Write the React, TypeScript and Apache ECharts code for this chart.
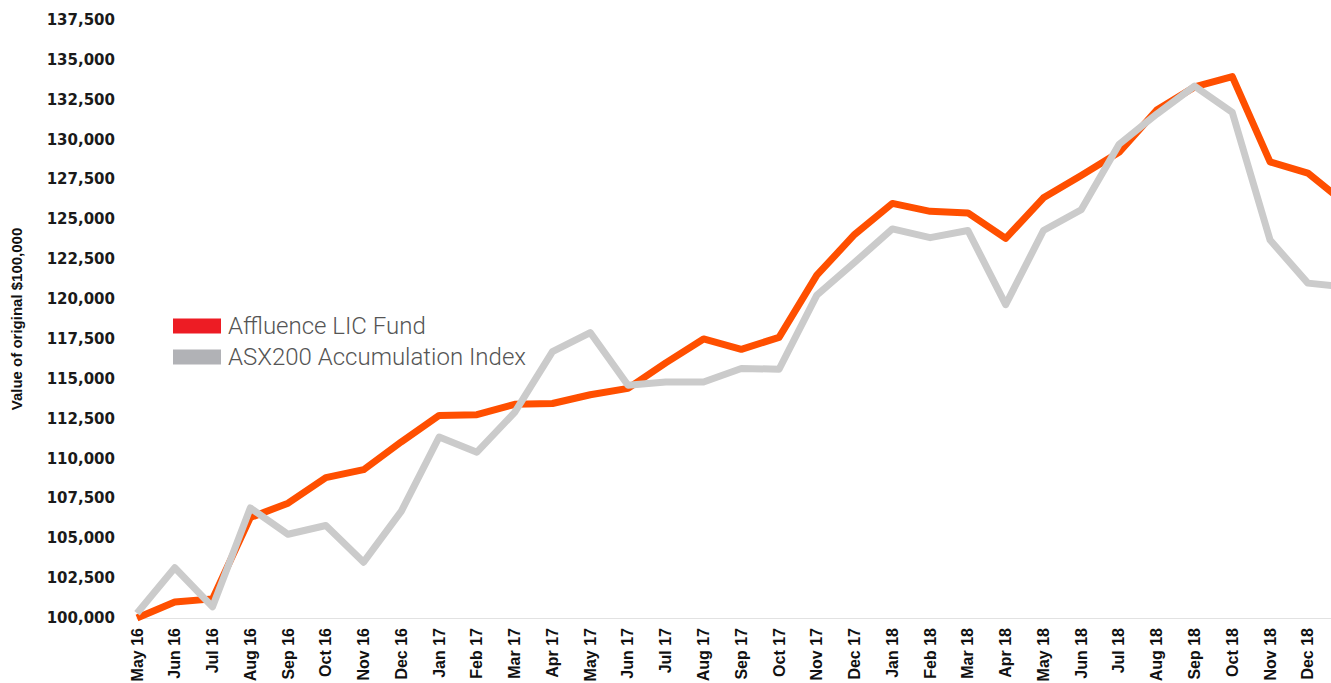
import React, { useEffect, useRef } from "react";
import * as echarts from "echarts";

const months = [
  "May 16", "Jun 16", "Jul 16", "Aug 16", "Sep 16", "Oct 16", "Nov 16", "Dec 16",
  "Jan 17", "Feb 17", "Mar 17", "Apr 17", "May 17", "Jun 17", "Jul 17", "Aug 17",
  "Sep 17", "Oct 17", "Nov 17", "Dec 17", "Jan 18", "Feb 18", "Mar 18", "Apr 18",
  "May 18", "Jun 18", "Jul 18", "Aug 18", "Sep 18", "Oct 18", "Nov 18", "Dec 18",
  "Jan 19",
];

const fundValues = [
  100000, 101000, 101200, 106300, 107200, 108800, 109300, 111050,
  112700, 112750, 113400, 113450, 114000, 114400, 116000, 117500,
  116850, 117600, 121500, 124050, 126000, 125500, 125400, 123800,
  126350, 127750, 129200, 131850, 133300, 133950, 128600, 127900,
  126000,
];

const indexValues = [
  100300, 103150, 100700, 106900, 105250, 105800, 103500, 106700,
  111350, 110400, 112900, 116700, 117900, 114600, 114800, 114800,
  115650, 115600, 120250, 122300, 124400, 123850, 124300, 119650,
  124300, 125600, 129700, 131600, 133350, 131700, 123700, 121000,
  120750,
];

const seriesNames = ["Affluence LIC Fund", "ASX200 Accumulation Index"];

export default function App() {
  const ref = useRef<HTMLDivElement>(null);

  useEffect(() => {
    if (!ref.current) return;
    const chart = echarts.init(ref.current, undefined, { renderer: "svg" });
    chart.setOption({
      animation: false,
      backgroundColor: "#ffffff",
      grid: {
        left: 137,
        top: 20,
        width: 1208.6,
        height: 598,
        containLabel: false,
        outerBoundsMode: "none",
      },
      legend: {
        orient: "vertical",
        left: 173,
        top: 314,
        padding: 0,
        icon: "rect",
        itemWidth: 48,
        itemHeight: 15,
        itemGap: 7,
        textStyle: {
          fontFamily: "Roboto",
          fontWeight: 300,
          fontSize: 24,
          lineHeight: 24,
          color: "#555555",
          padding: [0, 0, 0, 2],
        },
        data: [
          { name: seriesNames[0], itemStyle: { color: "#ED1C24" } },
          { name: seriesNames[1], itemStyle: { color: "#B1B2B6" } },
        ],
      },
      xAxis: {
        type: "category",
        data: months,
        boundaryGap: false,
        axisLine: { show: true, lineStyle: { color: "#E2E2E2", width: 1 } },
        axisTick: { show: false },
        axisLabel: {
          interval: 0,
          rotate: 90,
          margin: 10,
          fontFamily: "Liberation Sans",
          fontWeight: "bold",
          fontSize: 16,
          color: "#111111",
          formatter: (value: string, index: number) =>
            index === months.length - 1 ? "" : value,
        },
        splitLine: { show: false },
      },
      yAxis: {
        type: "value",
        min: 100000,
        max: 137500,
        interval: 2500,
        name: "Value of original $100,000",
        nameLocation: "middle",
        nameGap: 113,
        nameTextStyle: {
          fontFamily: "Liberation Sans",
          fontWeight: "bold",
          fontSize: 15,
          color: "#111111",
        },
        axisLine: { show: false },
        axisTick: { show: false },
        splitLine: { show: false },
        axisLabel: {
          margin: 22,
          fontFamily: "DejaVu Sans",
          fontWeight: "bold",
          fontSize: 15,
          color: "#1a1a1a",
          formatter: (v: number) => v.toLocaleString("en-US"),
        },
      },
      series: [
        {
          name: seriesNames[0],
          type: "line",
          data: fundValues,
          showSymbol: false,
          symbol: "none",
          lineStyle: { color: "#FF4F00", width: 7, join: "round" },
          itemStyle: { color: "#FF4F00" },
          z: 2,
        },
        {
          name: seriesNames[1],
          type: "line",
          data: indexValues,
          showSymbol: false,
          symbol: "none",
          lineStyle: { color: "#CBCBCB", width: 7, join: "round" },
          itemStyle: { color: "#CBCBCB" },
          z: 3,
        },
      ],
    });
    return () => chart.dispose();
  }, []);

  return (
    <div
      ref={ref}
      style={{ position: "fixed", left: 0, top: 0, width: 1331, height: 683 }}
    />
  );
}
